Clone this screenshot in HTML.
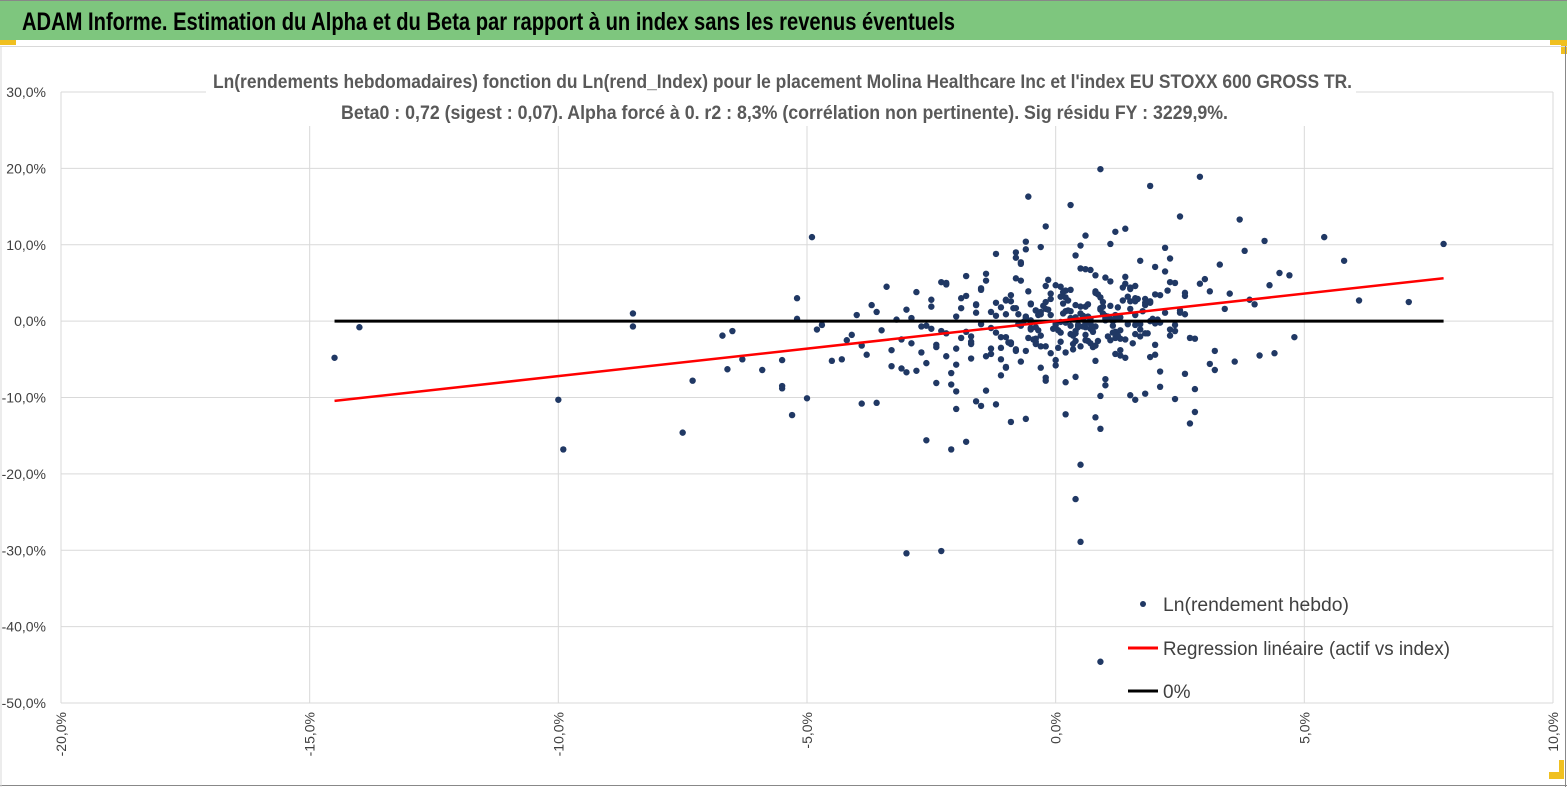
<!DOCTYPE html>
<html><head><meta charset="utf-8"><style>
html,body{margin:0;padding:0;background:#fff;}
svg{display:block;font-family:"Liberation Sans Narrow","Liberation Sans",sans-serif;}
</style></head><body>
<svg id="chart" width="1567" height="787" viewBox="0 0 1567 787">
  <rect x="0" y="0" width="1567" height="787" fill="#fff"/>
  <rect x="0" y="0" width="1567" height="40" fill="#7ec67e"/>
  <line x1="0" y1="0.5" x2="1567" y2="0.5" stroke="#888"/>
  <text x="22" y="30" font-size="25" font-weight="bold" fill="#000" textLength="933" lengthAdjust="spacingAndGlyphs">ADAM Informe. Estimation du Alpha et du Beta par rapport à un index sans les revenus éventuels</text>
  <rect x="0" y="40" width="16" height="5" fill="#f0c020"/>
  <rect x="1550" y="40" width="17" height="5" fill="#f0c020"/>
  <rect x="1561" y="40" width="6" height="14" fill="#f0c020"/>
  <rect x="1549" y="772" width="15" height="7" fill="#f0c020"/>
  <rect x="1559" y="760" width="5" height="19" fill="#f0c020"/>
  <line x1="0" y1="46.5" x2="1567" y2="46.5" stroke="#d9d9d9"/>
  <line x1="1565.5" y1="46" x2="1565.5" y2="787" stroke="#888"/>
  <line x1="0" y1="785.5" x2="1567" y2="785.5" stroke="#888"/>
  <line x1="1" y1="46" x2="1" y2="787" stroke="#d9d9d9"/>
  <g id="grid"></g>
  <g id="axes"></g>
  <g id="series"></g>
  <rect x="206" y="68" width="1150" height="58" fill="#fff"/>
  <text x="213" y="88" font-size="19" font-weight="bold" fill="#595959" textLength="1139" lengthAdjust="spacingAndGlyphs">Ln(rendements hebdomadaires) fonction du Ln(rend_Index) pour le placement Molina Healthcare Inc et l'index EU STOXX 600 GROSS TR.</text>
  <text x="341" y="119" font-size="19" font-weight="bold" fill="#595959" textLength="887" lengthAdjust="spacingAndGlyphs">Beta0 : 0,72 (sigest : 0,07). Alpha forcé à 0. r2 : 8,3% (corrélation non pertinente). Sig résidu FY : 3229,9%.</text>
  <g>
    <circle cx="1143" cy="604" r="3" fill="#203864"/>
    <text x="1163" y="611" font-size="19" fill="#404040" textLength="186" lengthAdjust="spacingAndGlyphs">Ln(rendement hebdo)</text>
    <line x1="1128" y1="648" x2="1158" y2="648" stroke="#ff0000" stroke-width="3"/>
    <text x="1163" y="655" font-size="19" fill="#404040" textLength="287" lengthAdjust="spacingAndGlyphs">Regression linéaire (actif vs index)</text>
    <line x1="1128" y1="691" x2="1158" y2="691" stroke="#000" stroke-width="3"/>
    <text x="1163" y="698" font-size="19" fill="#404040">0%</text>
  </g>
</svg>
<script>
const xTicks=[-20,-15,-10,-5,0,5,10];
const yTicks=[30,20,10,0,-10,-20,-30,-40,-50];
const beta=0.72;
const lineRange=[-14.5,7.8];
const ptsX=[-14.5,-14,-8.5,-8.5,-10,-9.9,-7.5,-7.3,-6.7,-6.5,-6.6,-6.3,-5.9,-5.5,-5.5,-5.5,-5.3,-5.2,-5.2,-4.9,-5,-4.8,-4.7,-4.5,-4.3,-3.9,-3.6,-3,-2.3,-2.6,-2.1,-1.8,0.4,0.5,0.5,0.9,0.9,1.9,2.9,-0.55,0.3,2.5,3.7,5.4,5.8,7.8,7.1,6.1,4.8,4.2,4.7,2.7,1.6,3.6,3.2,4.1,
-4.2,-4.0,-3.8,-3.7,-3.5,-3.4,-3.3,-3.2,-3.1,-3.0,-2.9,-2.8,-2.7,-2.6,-2.5,-2.4,-2.3,-2.2,-2.1,-2.0,-1.9,-1.8,-1.7,-1.6,-1.5,-1.4,-1.3,-1.2,-1.1,-1.0,
-4.1,-3.9,-3.6,-3.3,-3.1,-2.9,-2.7,-2.5,-2.3,-2.1,-1.9,-1.7,-1.5,-1.3,-1.1,-0.9,-0.7,-0.5,-0.3,-0.1,
-2.8,-2.6,-2.4,-2.2,-2.0,-1.8,-1.6,-1.4,-1.2,-1.0,-0.8,-0.6,-0.4,-0.2,0.0,0.2,0.4,0.6,0.8,1.0,
-1.5,-1.3,-1.1,-0.9,-0.7,-0.5,-0.3,-0.1,0.1,0.3,0.5,0.7,0.9,1.1,1.3,1.5,1.7,1.9,2.1,2.3,
-1.0,-0.8,-0.6,-0.4,-0.2,0.0,0.2,0.4,0.6,0.8,1.0,1.2,1.4,1.6,1.8,2.0,2.2,2.4,2.6,2.8,
-0.9,-0.7,-0.5,-0.3,-0.1,0.1,0.3,0.5,0.7,0.9,1.1,1.3,1.5,1.7,1.9,2.1,2.3,2.5,2.7,2.9,
-0.6,-0.4,-0.2,0.0,0.2,0.4,0.6,0.8,1.0,1.2,1.4,1.6,1.8,2.0,-0.5,-0.3,0.1,0.3,0.7,1.1,
-0.8,-0.6,-0.2,0.2,0.6,1.0,1.4,1.8,2.2,2.6,3.0,3.3,3.5,3.8,4.0,4.3,4.5,-1.2,-0.9,-0.3,
0.1,0.4,0.6,0.9,1.2,1.5,1.7,2.0,0.2,0.5,0.8,1.1,1.3,1.6,0.0,0.3,0.7,1.0,1.4,-0.4,
-1.4,-1.6,-2.0,-2.4,-1.8,-0.6,0.9,1.5,2.4,3.1,-1.2,-0.2,0.5,1.2,2.1,2.8,3.4,-0.7,0.8,1.9,
-2.5,-2.0,-1.5,-1.0,-0.5,0.2,0.7,1.3,1.8,2.3,-3.0,-2.2,-1.7,-0.8,0.4,1.6,2.6,3.2,3.9,4.4,
-1.3,-1.1,-0.9,-0.7,-0.5,-0.3,-0.1,0.1,0.3,0.5,0.7,0.9,1.1,1.3,1.5,1.7,1.9,2.1,2.3,2.5,
-1.2,-1.0,-0.8,-0.6,-0.4,-0.2,0.0,0.2,0.4,0.6,0.8,1.0,1.2,1.4,1.6,1.8,2.0,2.2,2.4,2.6,
-0.95,-0.75,-0.55,-0.35,-0.15,0.05,0.25,0.45,0.65,0.85,1.05,1.25,1.45,1.65,1.85,2.05,2.25,0.15,0.55,0.95,
-0.85,-0.65,-0.45,-0.25,-0.05,0.15,0.35,0.55,0.75,0.95,1.15,1.35,1.55,1.75,1.95,0.35,0.75,1.15,-0.15,0.65,
-2.2,-1.9,-1.7,-1.4,-1.1,-0.8,-0.4,0.0,0.4,0.8,1.2,1.6,2.0,2.4,2.8,3.1,-2.0,-1.6,-1.0,-0.2,
0.05,0.25,0.45,0.65,0.85,1.05,1.25,1.45,0.15,0.35,0.55,0.75,0.95,1.15,1.35,-0.35,-0.55,-0.75,0.6,1.0];
const ptsY=[-4.8,-0.8,1,-0.7,-10.3,-16.8,-14.6,-7.8,-1.9,-1.3,-6.3,-5,-6.4,-8.8,-8.5,-5.1,-12.3,3,0.3,11,-10.1,-1.1,-0.5,-5.2,-5,-10.8,-10.7,-30.4,-30.1,-15.6,-16.8,-15.8,-23.3,-28.9,-18.8,-44.6,19.9,17.7,18.9,16.3,15.2,13.7,13.3,11,7.9,10.1,2.5,2.7,-2.1,10.5,6,-13.4,-10.3,-5.3,-6.4,-4.5,
-2.5,0.8,-4.4,2.1,-1.2,4.5,-3.8,0.2,-6.2,1.5,-2.9,3.8,-0.7,-5.5,1.9,-3.1,5.1,-1.6,-8.3,0.6,-2.2,3.3,-4.9,1.1,-0.4,6.2,-3.6,2.4,-7.1,0.9,
-1.8,-3.2,1.2,-5.9,-2.4,0.4,-4.1,2.8,-1.3,-6.8,1.7,-2.7,4.3,-0.9,-3.5,2.6,-5.3,0.1,-1.9,3.6,
-6.5,-0.6,-3.4,4.8,-9.2,-1.4,2.2,-4.6,0.7,-2.1,5.6,-3.9,1.4,-7.4,-0.3,3.1,-2.6,6.8,-5.2,0.5,
-11.1,-4.3,1.8,-2.8,7.5,-0.2,-6.1,2.9,-1.5,4.1,-3.3,0.3,-9.8,5.2,-2.3,1.6,7.9,-4.7,3.4,-1.1,
2.7,-3.7,9.4,-0.8,4.6,-5.8,1.3,8.6,-2.5,3.9,-7.6,0.8,5.8,-1.7,2.1,-4.4,6.5,-0.5,3.7,-8.9,
-3.0,5.3,-1.1,0.9,-4.2,3.2,-0.6,6.9,-2.9,1.5,10.1,-3.8,4.4,-0.4,2.4,-6.6,8.2,1.1,-2.2,4.9,
0.6,-2.3,2.5,-5.1,4.0,-1.3,1.9,-3.2,5.7,0.2,-4.8,3.0,-1.6,7.1,-0.9,1.2,-2.7,0.4,-1.0,2.0,
8.3,10.4,-7.8,-12.2,11.2,-8.4,12.1,-9.5,9.6,-6.9,5.5,7.4,3.6,9.2,2.2,4.7,6.3,-10.9,-13.2,9.7,
-0.1,0.5,-0.8,1.7,-1.4,2.6,-2.0,3.5,-0.2,1.0,-0.7,0.3,-1.2,0.8,-0.5,1.3,-0.3,0.7,-2.4,1.4,
-9.1,-10.5,-11.5,-8.1,5.9,-12.8,-14.1,-9.7,-10.2,-5.6,8.8,12.4,9.9,11.7,-8.6,-11.9,1.6,7.7,-12.6,0.0,
-1.0,-3.6,4.1,-6.0,2.3,-8.0,6.7,-4.5,2.9,-1.9,-6.7,5.0,-3.0,9.0,-7.3,4.6,0.9,-3.9,2.8,-4.2,
1.2,-2.1,3.4,-0.6,2.2,-3.3,0.8,4.5,-1.7,1.9,-0.3,3.1,-2.5,0.5,4.2,-1.1,2.6,-0.2,5.1,1.4,
-1.5,2.8,-3.9,0.4,-2.7,1.6,-0.9,-4.1,2.1,-1.8,3.7,0.1,-2.2,4.9,-0.5,2.4,-3.1,1.1,-1.3,3.3,
-2.8,0.9,3.9,-1.2,1.5,-3.5,2.7,-0.8,0.6,3.5,-2.0,1.8,-0.4,2.9,-1.6,0.2,4.0,2.3,-0.7,1.0,
1.7,-0.1,-2.4,2.0,-1.0,3.8,-3.7,0.7,-1.4,2.5,-0.6,4.4,-2.9,1.3,0.3,-1.9,-3.4,0.0,5.4,-2.6,
-4.6,3.0,-2.0,5.3,-5.0,1.7,-3.0,4.7,-1.6,6.0,-4.3,2.6,-0.3,5.0,-2.3,3.9,-5.7,2.1,-6.1,-3.3,
-1.2,1.4,-0.5,2.2,-2.6,0.6,-1.9,3.2,1.0,-3.0,0.4,-0.9,1.9,-1.5,2.7,0.8,-2.2,-0.4,-0.2,0.3];
const X0=61,X1=1553,Y0=92,Y1=703;
const sx=v=>X0+(v-xTicks[0])/(xTicks[xTicks.length-1]-xTicks[0])*(X1-X0);
const sy=v=>Y1-(v-yTicks[yTicks.length-1])/(yTicks[0]-yTicks[yTicks.length-1])*(Y1-Y0);
const NS="http://www.w3.org/2000/svg";
function mk(t,a,p){const e=document.createElementNS(NS,t);for(const k in a)e.setAttribute(k,a[k]);p.appendChild(e);return e;}
const grid=document.getElementById('grid'),axes=document.getElementById('axes'),series=document.getElementById('series');
xTicks.forEach(v=>{
  const l=mk('line',{x1:sx(v),x2:sx(v),y1:Y0,y2:Y1,stroke:'#d9d9d9','stroke-width':1},grid);
  
  
  const t=mk('text',{x:0,y:0,'font-size':14,fill:'#404040','text-anchor':'end',transform:`translate(${sx(v)+5},712) rotate(-90)`},axes);
  t.textContent=v.toFixed(1).replace('.',',')+'%';
  
  
});
yTicks.forEach(v=>{
  const l=mk('line',{x1:X0,x2:X1,y1:sy(v),y2:sy(v),stroke:'#d9d9d9','stroke-width':1},grid);
  
  
  const t=mk('text',{x:46,y:sy(v)+5,'font-size':14,fill:'#404040','text-anchor':'end'},axes);
  t.textContent=v.toFixed(1).replace('.',',')+'%';
  
  
});
for(let i=0;i<ptsX.length;i++){
  const c=mk('circle',{cx:sx(ptsX[i]),cy:sy(ptsY[i]),r:3.2,fill:'#203864'},series);
  
  
}
const zl=mk('line',{x1:sx(lineRange[0]),x2:sx(lineRange[1]),y1:sy(0),y2:sy(0),stroke:'#000','stroke-width':3},series);


const rl=mk('line',{x1:sx(lineRange[0]),x2:sx(lineRange[1]),y1:sy(beta*lineRange[0]),y2:sy(beta*lineRange[1]),stroke:'#ff0000','stroke-width':2.5},series);


</script>
</body></html>
